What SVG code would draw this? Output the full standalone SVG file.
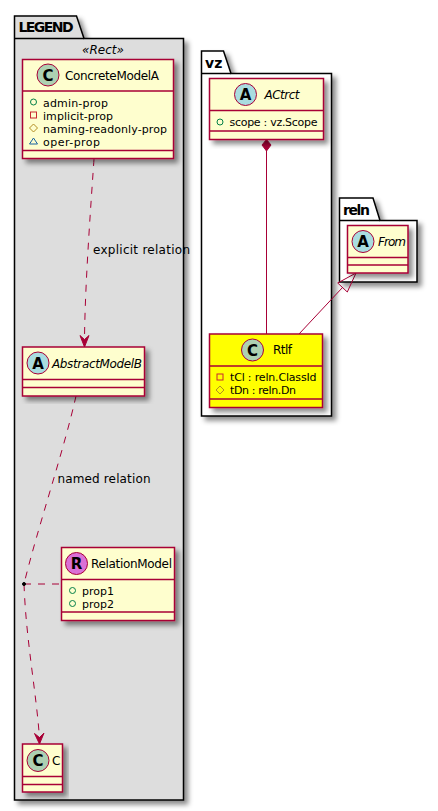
<svg xmlns="http://www.w3.org/2000/svg" width="438" height="811" viewBox="0 0 438 811">
<style>
text{font-family:"DejaVu Sans",sans-serif;font-size:12px;fill:#000}
.pk{fill:#fff;stroke:#000;stroke-width:1.5}
.pt{font-weight:bold;font-size:14px}
.bx{fill:#FEFECE;stroke:#A80036;stroke-width:1.5}
.y{fill:#ff0}
.ln{stroke:#A80036;stroke-width:1.5;fill:none}
.cn{stroke:#A80036;stroke-width:1;fill:none}
.d{stroke-dasharray:7 7}
.cc{stroke:#A80036;stroke-width:1;fill:#ADD1B2}
.ca{stroke:#A80036;stroke-width:1;fill:#A9DCDF}
.cr{stroke:#A80036;stroke-width:1;fill:#DA70D6}
.g{font-family:"DejaVu Sans",sans-serif;font-weight:bold;font-size:15px;text-anchor:middle}
.i{font-style:italic}
.m{font-size:11px}
.mp{fill:none;stroke:#038048}
.mr{fill:none;stroke:#C82930}
.mh{fill:none;stroke:#B38D22}
.mt{fill:none;stroke:#1963A0}
</style>
<defs>
<filter id="s" x="-10%" y="-10%" width="125%" height="125%"><feDropShadow dx="4" dy="4" stdDeviation="2.500" flood-color="#000" flood-opacity=".45"/></filter>
</defs>
<g id="pkg-legend">
<path class="pk" filter="url(#s)" style="fill:#ddd" d="M14.500 38.500V16h62l7.500 22.500H183.500V800H14.500Z"/>
<path class="pk" style="fill:none" d="M14.500 38.500H84"/>
<text class="pt" x="18.500" y="32" textLength="55">LEGEND</text>
<text class="i" x="82" y="54">«Rect»</text>
</g>
<g id="pkg-vz">
<path class="pk" filter="url(#s)" d="M201.500 73.500V51h22l7.500 22.500H331.500V416H201.500Z"/>
<path class="pk" style="fill:none" d="M201.500 73.500H231"/>
<text class="pt" x="205" y="68">vz</text>
</g>
<g id="pkg-reln">
<path class="pk" filter="url(#s)" d="M339.500 220.500V198h33.500l7 22.500H417V282H339.500Z"/>
<path class="pk" style="fill:none" d="M339.500 220.500H380"/>
<text class="pt" x="343" y="214.500" textLength="27">reln</text>
</g>
<g id="connectors">
<path class="cn d" d="M94 159C92 190 85 280 84.500 340"/>
<path class="cn" style="fill:#A80036" d="M84.500 347 80 335.500 84.500 339.500 89 335.500Z"/>
<path class="cn d" d="M76 396C64 450 37 530 24 584"/>
<path class="cn d" d="M24 584C26 640 36 690 39.500 738"/>
<path class="cn" style="fill:#A80036" d="M39.500 744 34.500 733.500 39.500 737.500 44 733Z"/>
<path class="cn d" d="M24 584H61"/>
<circle cx="24" cy="584" r="1.500" fill="#000" stroke="#000"/>
<path class="cn" d="M266.500 151V334"/>
<path class="cn" style="fill:#A80036" d="M266.500 139.500 271 145 266.500 151 262 145Z"/>
<path class="cn" d="M299 334 342.500 287.500"/>
<path class="cn" d="M356 273 337.700 283 347.300 292Z"/>
</g>
<g id="node-concretemodela">
<rect class="bx" filter="url(#s)" x="22.500" y="59.500" width="151" height="99"/>
<path class="ln" d="M22.500 91H173.500M22.500 150.500H173.500"/>
<circle class="cc" cx="48" cy="75" r="11"/><text class="g" x="48" y="80.500">C</text>
<text x="65" y="80" textLength="94">ConcreteModelA</text>
<circle class="mp" cx="33.500" cy="102" r="3"/><text class="m" x="43" y="106.500" textLength="65">admin-prop</text>
<rect class="mr" x="30.500" y="112" width="6" height="6"/><text class="m" x="43" y="119.500" textLength="70">implicit-prop</text>
<path class="mh" d="M33.500 124 37.500 128 33.500 132 29.500 128Z"/><text class="m" x="43" y="132.500" textLength="124">naming-readonly-prop</text>
<path class="mt" d="M33.500 138 37.500 144H29.500Z"/><text class="m" x="43" y="145.500" textLength="57">oper-prop</text>
</g>
<g id="node-abstractmodelb">
<rect class="bx" filter="url(#s)" x="22.500" y="347" width="122" height="49"/>
<path class="ln" d="M22.500 379.500H144.500M22.500 387.500H144.500"/>
<circle class="ca" cx="38" cy="363" r="11"/><text class="g" x="38" y="368.500">A</text>
<text class="i" x="52" y="368" textLength="90">AbstractModelB</text>
</g>
<g id="node-relationmodel">
<rect class="bx" filter="url(#s)" x="61.500" y="547.500" width="113" height="73"/>
<path class="ln" d="M61.500 579.500H174.500M61.500 612H174.500"/>
<circle class="cr" cx="76.500" cy="563.500" r="11"/><text class="g" x="76.500" y="569">R</text>
<text x="91" y="568" textLength="81">RelationModel</text>
<circle class="mp" cx="72.500" cy="590.500" r="3"/><text class="m" x="82" y="595" textLength="32">prop1</text>
<circle class="mp" cx="72.500" cy="603.500" r="3"/><text class="m" x="82" y="608" textLength="32">prop2</text>
</g>
<g id="node-c">
<rect class="bx" filter="url(#s)" x="22.500" y="744" width="40" height="48"/>
<path class="ln" d="M22.500 776.500H62.500M22.500 784.500H62.500"/>
<circle class="cc" cx="38" cy="760.500" r="11"/><text class="g" x="38" y="766">C</text>
<text x="52" y="765">C</text>
</g>
<g id="node-actrct">
<rect class="bx" filter="url(#s)" x="209.500" y="78.500" width="114" height="61"/>
<path class="ln" d="M209.500 110.500H323.500M209.500 131H323.500"/>
<circle class="ca" cx="245.500" cy="94.500" r="11"/><text class="g" x="245.500" y="100">A</text>
<text class="i" x="264.500" y="99" textLength="35">ACtrct</text>
<circle class="mp" cx="220" cy="122" r="3"/><text class="m" x="229.500" y="126" textLength="88">scope : vz.Scope</text>
</g>
<g id="node-rtlf">
<rect class="bx y" filter="url(#s)" x="209.500" y="334" width="113" height="73.500"/>
<path class="ln" d="M209.500 366H322.500M209.500 399H322.500"/>
<circle class="cc" cx="252.500" cy="350" r="11"/><text class="g" x="252.500" y="355.500">C</text>
<text x="273" y="354" textLength="19">Rtlf</text>
<rect class="mr" x="217" y="374" width="6" height="6"/><text class="m" x="230" y="381" textLength="86.500">tCl : reln.ClassId</text>
<path class="mh" d="M220 386 224 390 220 394 216 390Z"/><text class="m" x="230" y="394" textLength="66">tDn : reln.Dn</text>
</g>
<g id="node-from">
<rect class="bx" filter="url(#s)" x="347.500" y="225.500" width="60.500" height="47.500"/>
<path class="ln" d="M347.500 257.500H408M347.500 265H408"/>
<circle class="ca" cx="363" cy="241.500" r="11"/><text class="g" x="363" y="247">A</text>
<text class="i" x="378" y="246" textLength="28">From</text>
</g>
<g id="labels">
<text x="93" y="254" textLength="97">explicit relation</text>
<text x="57.500" y="483" textLength="93">named relation</text>
</g>
</svg>
